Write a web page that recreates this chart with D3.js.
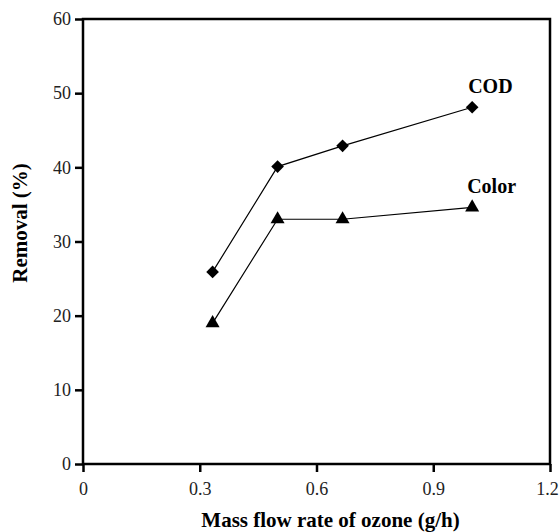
<!DOCTYPE html>
<html><head><meta charset="utf-8">
<script src="https://cdn.jsdelivr.net/npm/d3@7"></script>
<style>body{margin:0;background:#fff}</style>
</head><body>
<svg id="c" width="560" height="532"></svg>
<script>
const flowRates = [0.333, 0.5, 0.667, 1.0];
const codRemoval = [25.9, 40.1, 42.9, 48.1];
const colorRemoval = [19.0, 33.0, 33.0, 34.6];
const xTicks = [0, 0.3, 0.6, 0.9, 1.2];
const yTicks = [0, 10, 20, 30, 40, 50, 60];
const seriesNames = ["COD", "Color"];

const svg = d3.select("#c");
const L = 83, R = 550, T = 19, B = 464;
const x = d3.scaleLinear().domain([0, 1.2]).range([L, R]);
const y = d3.scaleLinear().domain([0, 60]).range([B, T]);
const font = "'Liberation Serif', 'Times New Roman', serif";

svg.append("rect").attr("x", L).attr("y", T).attr("width", R - L).attr("height", B - T)
  .attr("fill", "none").attr("stroke", "#000").attr("stroke-width", 2.5);

const xa = svg.append("g").attr("transform", `translate(0,${B})`)
  .call(d3.axisBottom(x).tickValues(xTicks).tickSize(8).tickPadding(10).tickFormat(d => d3.format("")(+d.toFixed(1))));
const ya = svg.append("g").attr("transform", `translate(${L},0)`)
  .call(d3.axisLeft(y).tickValues(yTicks).tickSize(8).tickPadding(4));
[xa, ya].forEach(a => {
  a.attr("font-family", font).attr("font-size", 18);
  a.select(".domain").remove();
  a.selectAll("line").attr("stroke", "#000").attr("stroke-width", 2.5);
  a.selectAll("text").attr("font-family", font).attr("font-size", 18).attr("fill", "#222");
});
xa.selectAll(".tick text").filter(d => d === 1.2).attr("dx", -3);

svg.append("text").attr("x", (L + R) / 2 + 14).attr("y", 527).attr("text-anchor", "middle")
  .attr("font-family", font).attr("font-weight", "bold").attr("font-size", 21)
  .text("Mass flow rate of ozone (g/h)");
svg.append("text").attr("transform", `translate(27,223) rotate(-90)`).attr("text-anchor", "middle")
  .attr("font-family", font).attr("font-weight", "bold").attr("font-size", 21)
  .text("Removal (%)");

const line = d3.line().x(d => x(d[0])).y(d => y(d[1]));
const cod = flowRates.map((f, i) => [f, codRemoval[i]]);
const col = flowRates.map((f, i) => [f, colorRemoval[i]]);

svg.append("path").datum(cod).attr("d", line).attr("fill", "none").attr("stroke", "#000").attr("stroke-width", 1.2);
svg.append("path").datum(col).attr("d", line).attr("fill", "none").attr("stroke", "#000").attr("stroke-width", 1.2);

const diamond = d3.symbol().type(d3.symbolSquare).size(80);
svg.selectAll(".dm").data(cod).join("path")
  .attr("d", diamond).attr("transform", d => `translate(${x(d[0])},${y(d[1])}) rotate(45)`).attr("fill", "#000");
const tri = d3.symbol().type(d3.symbolTriangle).size(85);
svg.selectAll(".tr").data(col).join("path")
  .attr("d", tri).attr("transform", d => `translate(${x(d[0])},${y(d[1])})`).attr("fill", "#000");

svg.append("text").attr("x", x(1.0) - 4).attr("y", y(codRemoval[3]) - 14)
  .attr("font-family", font).attr("font-weight", "bold").attr("font-size", 20).text(seriesNames[0]);
svg.append("text").attr("x", x(1.0) - 5).attr("y", y(colorRemoval[3]) - 14)
  .attr("font-family", font).attr("font-weight", "bold").attr("font-size", 20).text(seriesNames[1]);
</script>
</body></html>
